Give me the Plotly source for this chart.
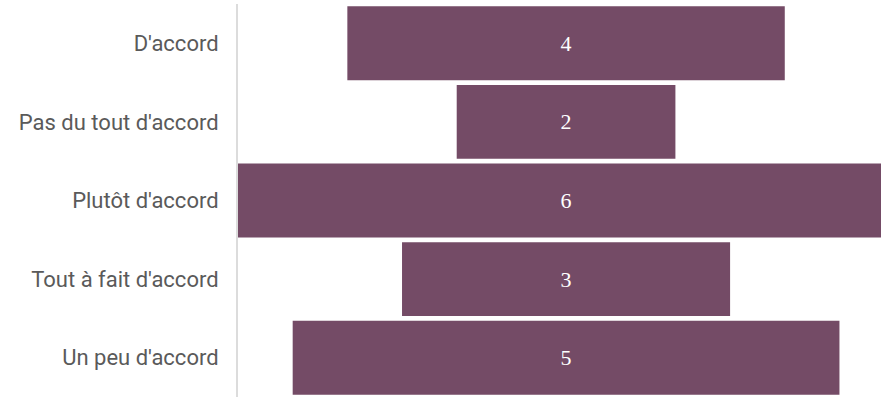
import plotly.graph_objects as go

categories = ["D'accord", "Pas du tout d'accord", "Plutôt d'accord", "Tout à fait d'accord", "Un peu d'accord"]
values = [4, 2, 6, 3, 5]

fig = go.Figure(go.Funnel(
    y=categories,
    x=values,
    orientation="h",
    marker=dict(color="#744b66", line=dict(width=0)),
    connector=dict(visible=False),
    textinfo="value",
    textposition="inside",
    insidetextanchor="middle",
    textfont=dict(family="Liberation Serif, DejaVu Serif, serif", size=22, color="white"),
    hoverinfo="skip",
))

fig.update_layout(
    width=881, height=397,
    margin=dict(l=238, r=0, t=4, b=0),
    paper_bgcolor="white", plot_bgcolor="white",
    showlegend=False,
    funnelgap=0.06,
    xaxis=dict(range=[-3, 2.88], visible=False, fixedrange=True),
    yaxis=dict(
        showline=True, linecolor="#dcdcdc", linewidth=2,
        showgrid=False, zeroline=False, fixedrange=True,
        tickfont=dict(family="Roboto, sans-serif", size=22, color="#5a5a5a"),
        ticklabelstandoff=13,
    ),
)

fig.write_html("out.html", config={"displayModeBar": False},
               post_script="document.body.style.margin='0';")
